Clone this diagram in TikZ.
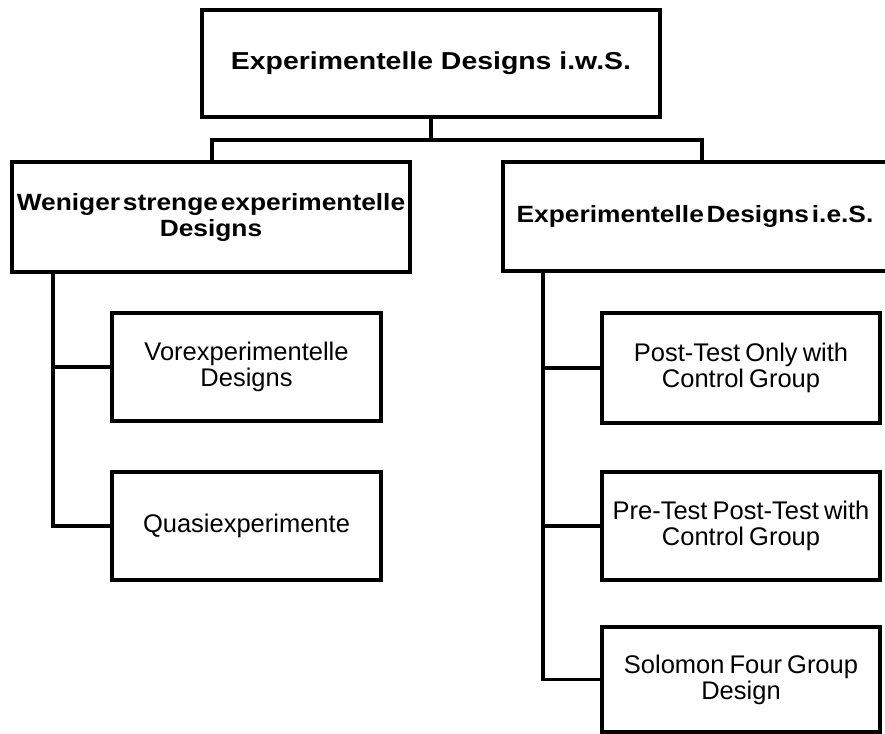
\documentclass[tikz,border=0pt]{standalone}
\usepackage{fontspec}
\setmainfont{Liberation Sans}
\newfontfamily\widebold{Liberation Sans}[FakeStretch=1.16]
\newfontfamily\midbold{Liberation Sans}[FakeStretch=1.12]
\newcommand{\toplabelfont}{\widebold\bfseries\fontsize{24.5}{27}\selectfont}
\newcommand{\grouplabelfont}{\midbold\bfseries\fontsize{23.5}{26}\selectfont\spaceskip=0.12em\relax}
\newcommand{\leaflabelfont}{\fontsize{25.5}{26}\selectfont\spaceskip=0.2em\relax}
\begin{document}
\begin{tikzpicture}[x=1pt,y=-1pt,
  every node/.style={draw=black,line width=3.6pt,rectangle,inner sep=0pt,align=center,fill=white},
  rootbox/.style={font=\toplabelfont},
  groupbox/.style={font=\grouplabelfont},
  leafbox/.style={font=\leaflabelfont},
  link/.style={draw=black,line width=3.6pt}]
\clip (0,0) rectangle (885,733);
\fill[white] (0,0) rectangle (885,733);

% root
\node[rootbox,minimum width=458pt,minimum height=107pt] (root) at (431,63.5) {Experimentelle Designs i.w.S.};

% second level
\node[groupbox,minimum width=398pt,minimum height=110pt] (weak) at (211,217) {Weniger strenge experimentelle\\Designs};
\node[groupbox,minimum width=384pt,minimum height=109pt] (strict) at (695,216.5) {Experimentelle Designs i.e.S.};

% leaves, left branch
\node[leafbox,minimum width=269pt,minimum height=108pt] (pre) at (246.5,367) {Vorexperimentelle\\Designs};
\node[leafbox,minimum width=269pt,minimum height=108pt] (quasi) at (246.5,526) {Quasiexperimente};

% leaves, right branch
\node[leafbox,minimum width=278pt,minimum height=110pt] (post) at (741,368) {Post-Test Only with\\Control Group};
\node[leafbox,minimum width=278pt,minimum height=108pt] (prepost) at (741,526) {Pre-Test Post-Test with\\Control Group};
\node[leafbox,minimum width=278pt,minimum height=105pt] (solomon) at (741,679.5) {Solomon Four Group\\Design};

% connectors
\coordinate (bus) at (431,140);
\draw[link] (root.south) -- (bus);
\draw[link] ([xshift=1pt]weak.north) |- (bus) -| ([xshift=7pt]strict.north);

\coordinate (weaktrunk) at ([xshift=-158pt]weak.south);
\draw[link] (weaktrunk) |- (quasi.west);
\draw[link] (weaktrunk |- pre.west) -- (pre.west);

\coordinate (stricttrunk) at ([xshift=-152pt]strict.south);
\draw[link] (stricttrunk) |- (solomon.west);
\draw[link] (stricttrunk |- post.west) -- (post.west);
\draw[link] (stricttrunk |- prepost.west) -- (prepost.west);
\end{tikzpicture}
\end{document}
